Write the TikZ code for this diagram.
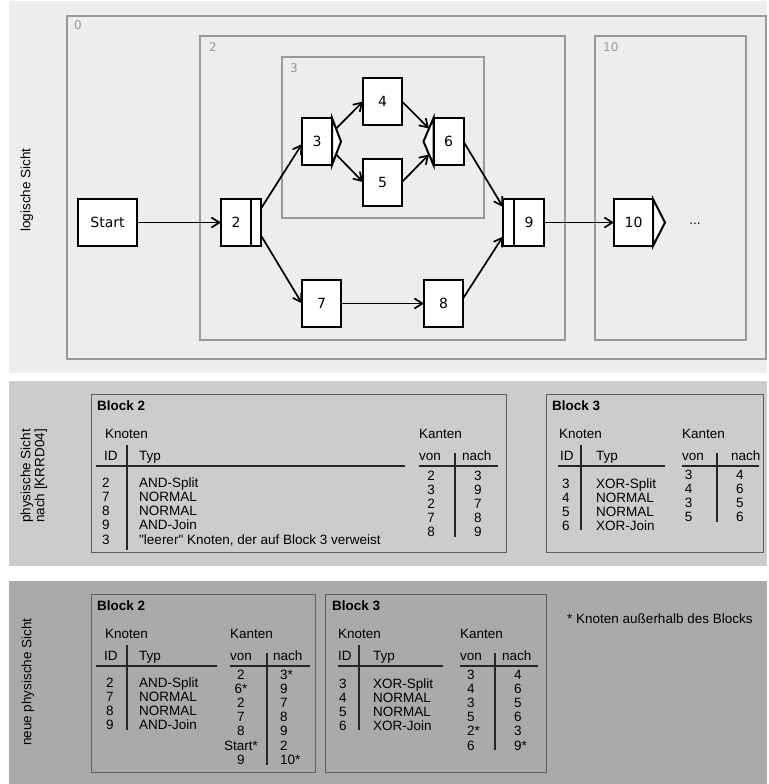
\documentclass[tikz,border=0pt]{standalone}
\usepackage{fontspec}
\setmainfont{Liberation Sans}
\newfontfamily\flowfont{DejaVu Sans}
\usetikzlibrary{arrows.meta,positioning,calc}
\definecolor{logbg}{HTML}{EDEDED}
\definecolor{physbg}{HTML}{CCCCCC}
\definecolor{newbg}{HTML}{AAAAAA}
\definecolor{grpline}{HTML}{999999}
\definecolor{tabline}{HTML}{5E5E5E}

\begin{document}
\begin{tikzpicture}[x=1pt,y=-1pt,>={Straight Barb[length=8pt,width=10pt]},
  flow/.style={->,line width=1.7pt},
  task/.style={draw,line width=2pt,fill=white,outer sep=0pt,inner sep=0pt,
    minimum width=39pt,minimum height=47pt,font=\flowfont\fontsize{14}{16}\selectfont},
  narrow/.style={task,minimum width=30pt},
  bar/.style={draw,line width=2pt,fill=white,outer sep=0pt,inner sep=0pt,minimum height=47pt},
  chev/.style={draw,line width=2pt,fill=white,line join=miter},
  grp/.style={draw=grpline,line width=1.5pt},
  grplabel/.style={anchor=base west,text=grpline,inner sep=0pt,font=\flowfont\fontsize{12}{14}\selectfont},
  txt/.style={inner sep=0pt,font=\fontsize{13.5}{14}\selectfont},
  cell/.style={txt,anchor=base west},
  ccell/.style={txt,anchor=base},
  title/.style={cell,font=\fontsize{13.5}{14}\selectfont\bfseries},
  side/.style={txt,rotate=90,align=center},
  tab/.style={draw=tabline,line width=1pt},
  hrule/.style={draw=black!85,line width=2pt},
  vrule/.style={draw=black!85,line width=1.5pt}]
  \useasboundingbox (0,0) rectangle (768,784);

  \fill[logbg] (9,1) rectangle (767,373);
  \fill[physbg] (9,381) rectangle (767,566);
  \fill[newbg] (9,581) rectangle (767,784);

  \node[side] (lsicht) at (27,190) {logische Sicht};
  \node[side] (psicht) at (34,476) {physische Sicht\\nach [KRRD04]};
  \node[side] (nsicht) at (28,682) {neue physische Sicht};

  \draw[grp] (67,16) rectangle (766,359);
  \draw[grp] (200,36) rectangle (565,340);
  \draw[grp] (282,57) rectangle (484,218);
  \draw[grp] (595,36) rectangle (746,340);
  \node[grplabel] (l0) at (74,30) {0};
  \node[grplabel] (l2) at (209,52) {2};
  \node[grplabel] (l3) at (290,73) {3};
  \node[grplabel] (l10) at (603,52) {10};

  \node[task,minimum width=59pt] (start) at (107.5,222.5) {Start};
  \node[narrow] (n2) at (236,222.5) {2};
  \node[bar,minimum width=10pt,right=0pt of n2] (n2b) {};
  \node[narrow] (n3) at (317,141.5) {3};
  \node[task] (n4) at (382.5,101.5) {4};
  \node[task] (n5) at (382.5,182) {5};
  \node[narrow] (n6) at (448.5,141.5) {6};
  \node[task] (n7) at (321.5,303.5) {7};
  \node[task] (n8) at (443.5,303.5) {8};
  \node[narrow] (n9) at (529,222.5) {9};
  \node[bar,minimum width=11pt,left=0pt of n9] (n9b) {};
  \node[task] (n10) at (633.5,222.5) {10};
  \node[anchor=base,inner sep=0pt,font=\flowfont\fontsize{12}{14}\selectfont] (dots) at (695,224) {...};

  \draw[chev] (n3.north east) -- ++(9,23.5) coordinate (n3tip) -- (n3.south east) -- cycle;
  \draw[chev] (n6.north west) -- ++(-10,23.5) coordinate (n6tip) -- (n6.south west) -- cycle;
  \draw[chev] (n10.north east) -- ++(12,23.5) coordinate (n10tip) -- (n10.south east) -- cycle;

  \draw[flow] (start) -- (n2);
  \draw[flow] ([yshift=14pt]n2b.east) -- ([yshift=-2.5pt]n3.west);
  \draw[flow] ([yshift=-13pt]n2b.east) -- (n7.west);
  \draw[flow] ($(n3.north east)!0.45!(n3tip)$) -- (n4.west);
  \draw[flow] ($(n3.south east)!0.45!(n3tip)$) -- (n5.west);
  \draw[flow] (n4.east) -- ($(n6.north west)!0.45!(n6tip)$);
  \draw[flow] (n5.east) -- ($(n6.south west)!0.45!(n6tip)$);
  \draw[flow] (n6.east) -- ([yshift=15.5pt]n9b.west);
  \draw[flow] (n7) -- (n8);
  \draw[flow] ([yshift=5pt]n8.east) -- ([yshift=-14pt]n9b.west);
  \draw[flow] (n9) -- (n10);

  % physische Sicht, Block 2
  \draw[tab] (91,394) rectangle (506,552);
  \node[title] (pa) at (97,410) {Block 2};
  \node[cell] (pak) at (105,438) {Knoten};
  \node[cell] (paid) at (104,460) {ID};
  \node[cell] (patyp) at (139,460) {Typ};
  \draw[vrule] (127,445) -- (127,550);
  \draw[hrule] (96,466) -- (405,466);
  \foreach \a/\b [count=\i from 0] in {2/AND-Split,7/NORMAL,8/NORMAL,9/AND-Join}
    \node[cell] (paid\i) at (102,487+14.25*\i) {\a} node[cell] (paty\i) at (139,487+14.25*\i) {\b};
  \node[cell] (paid4) at (102,544) {3};
  \node[cell] (paty4) at (139,544) {\textquotedbl leerer\textquotedbl{} Knoten, der auf Block 3 verweist};
  \node[cell] (pae) at (419,438) {Kanten};
  \node[cell] (pavon) at (419,460) {von};
  \node[cell] (panach) at (462,460) {nach};
  \draw[vrule] (455,453) -- (455,537);
  \draw[hrule] (419,466) -- (498,466);
  \foreach \a/\b [count=\i from 0] in {2/3,3/9,2/7,7/8,8/9}
    \node[ccell] (pav\i) at (431,480+14*\i) {\a} node[cell] (pan\i) at (474,480+14*\i) {\b};

  % physische Sicht, Block 3
  \draw[tab] (546,394) rectangle (763,552);
  \node[title] (pb) at (552,410) {Block 3};
  \node[cell] (pbk) at (559,438) {Knoten};
  \node[cell] (pbid) at (560,460) {ID};
  \node[cell] (pbtyp) at (596,460) {Typ};
  \draw[vrule] (581,445) -- (581,530);
  \draw[hrule] (558,466) -- (665,466);
  \foreach \a/\b [count=\i from 0] in {3/XOR-Split,4/NORMAL,5/NORMAL,6/XOR-Join}
    \node[cell] (pbid\i) at (562,488+14.2*\i) {\a} node[cell] (pbty\i) at (596,488+14.2*\i) {\b};
  \node[cell] (pbe) at (682,438) {Kanten};
  \node[cell] (pbvon) at (682,460) {von};
  \node[cell] (pbnach) at (731,460) {nach};
  \draw[vrule] (717,453) -- (717,522);
  \draw[hrule] (682,466) -- (759,466);
  \foreach \a/\b [count=\i from 0] in {3/4,4/6,3/5,5/6}
    \node[ccell] (pbv\i) at (688.5,479.5+14*\i) {\a} node[cell] (pbn\i) at (736,479.5+14*\i) {\b};

  % neue physische Sicht, Block 2
  \draw[tab] (91,594) rectangle (315,772);
  \node[title] (na) at (97,610) {Block 2};
  \node[cell] (nak) at (105,638) {Knoten};
  \node[cell] (naid) at (104,660) {ID};
  \node[cell] (natyp) at (139,660) {Typ};
  \draw[vrule] (127,645) -- (127,730);
  \draw[hrule] (96,666) -- (217,666);
  \foreach \a/\b [count=\i from 0] in {2/AND-Split,7/NORMAL,8/NORMAL,9/AND-Join}
    \node[cell] (naid\i) at (106,687+14.3*\i) {\a} node[cell] (naty\i) at (139,687+14.3*\i) {\b};
  \node[cell] (nae) at (230,638) {Kanten};
  \node[cell] (navon) at (230,660) {von};
  \node[cell] (nanach) at (273,660) {nach};
  \draw[vrule] (267,653) -- (267,765);
  \draw[hrule] (230,666) -- (310,666);
  \foreach \a/\b [count=\i from 0] in {2/3*,6*/9,2/7,7/8,8/9,Start*/2,9/10*}
    \node[ccell] (nav\i) at (241,679.5+14.1*\i) {\a} node[cell] (nan\i) at (280,679.5+14.1*\i) {\b};

  % neue physische Sicht, Block 3
  \draw[tab] (325,594) rectangle (546,772);
  \node[title] (nb) at (332,610) {Block 3};
  \node[cell] (nbk) at (338,638) {Knoten};
  \node[cell] (nbid) at (338,660) {ID};
  \node[cell] (nbtyp) at (373,660) {Typ};
  \draw[vrule] (359,645) -- (359,730);
  \draw[hrule] (338,666) -- (443,666);
  \foreach \a/\b [count=\i from 0] in {3/XOR-Split,4/NORMAL,5/NORMAL,6/XOR-Join}
    \node[cell] (nbid\i) at (339,688+14.2*\i) {\a} node[cell] (nbty\i) at (373,688+14.2*\i) {\b};
  \node[cell] (nbe) at (460,638) {Kanten};
  \node[cell] (nbvon) at (460,660) {von};
  \node[cell] (nbnach) at (502,660) {nach};
  \draw[vrule] (495,653) -- (495,750);
  \draw[hrule] (460,666) -- (538,666);
  \foreach \a/\b [count=\i from 0] in {3/4,4/6,3/5,5/6,2*/3,6/9*}
    \node[cell] (nbv\i) at (467,679.5+14.1*\i) {\a} node[cell] (nbn\i) at (514,679.5+14.1*\i) {\b};

  \node[cell] (fuss) at (567,623) {* Knoten außerhalb des Blocks};
\end{tikzpicture}
\end{document}
